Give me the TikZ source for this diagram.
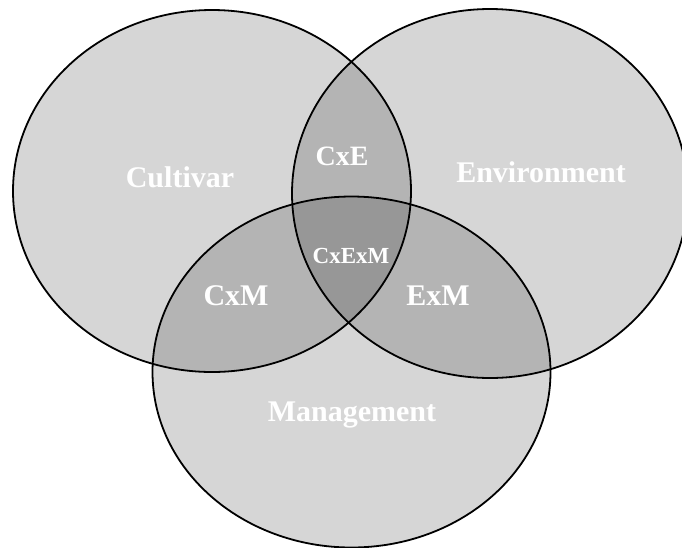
\documentclass[tikz,border=0pt]{standalone}
\usepackage{fontspec}
\setmainfont{Liberation Serif}
\usetikzlibrary{shapes.geometric, positioning}
\tikzstyle{factor} = [ellipse, inner sep=0pt, draw=black, line width=1.8pt, fill=black, fill opacity=0.16, draw opacity=1]
\tikzstyle{label_big} = [anchor=base, text=white, inner sep=0pt, font=\bfseries\fontsize{30}{36}\selectfont]
\tikzstyle{label_small} = [anchor=base, text=white, inner sep=0pt, font=\bfseries\fontsize{23}{28}\selectfont]

\begin{document}
\begin{tikzpicture}[x=1pt, y=-1pt]
        \useasboundingbox (0,0) rectangle (682,547);
        \node (cultivar) [factor, minimum width=398pt, minimum height=362pt] at (212,191) {};
        \node (environment) [factor, minimum width=396pt, minimum height=369pt] at (490,193.5) {};
        \node (management) [factor, minimum width=398pt, minimum height=351pt] at (351.5,372) {};

        \node (cultivar_text) [label_big] at (180,187) {Cultivar};
        \node (environment_text) [label_big] at (541,182) {Environment};
        \node (management_text) [label_big] at (352,421) {Management};
        \node (cxe_text) [label_big, font=\bfseries\fontsize{28}{34}\selectfont] at (342,165) {CxE};
        \node (cxm_text) [label_big] at (236,305) {CxM};
        \node (exm_text) [label_big] at (438,305) {ExM};
        \node (cxexm_text) [label_small] at (351,263) {CxExM};
    \end{tikzpicture}
\end{document}
